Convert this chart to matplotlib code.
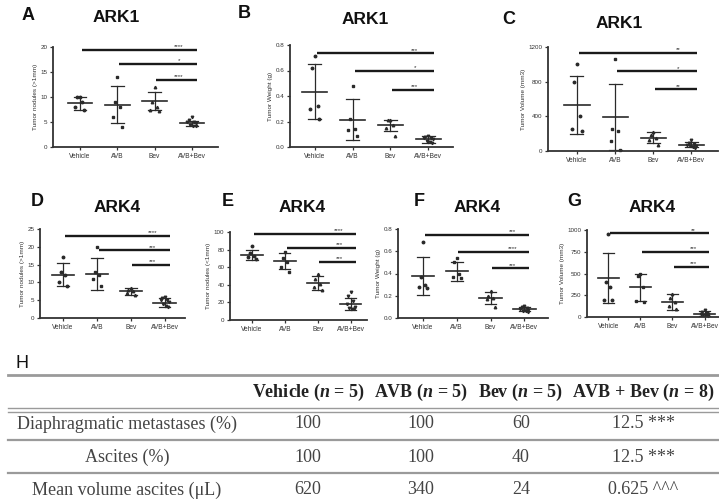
import matplotlib.pyplot as plt
import numpy as np

plt.rcParams['font.family'] = ['Liberation Sans', 'DejaVu Sans']
plt.rcParams['mathtext.fontset'] = 'custom'
plt.rcParams['mathtext.it'] = 'Liberation Serif:italic:bold'

W, H = 719, 503
groups = ['Vehicle', 'AVB', 'Bev', 'AVB+Bev']

# A - ARK1 tumor nodules (>1mm)
a_pts = [[10, 10, 9, 8, 7.5], [14, 9, 8, 6, 4], [12, 9, 8, 7.5, 7.2],
         [6, 5.5, 5, 5, 4.8, 4.5, 4.3, 4.2]]
a_mean = [8.8, 8.5, 9.2, 4.8]
a_sd = [1.3, 3.7, 1.85, 0.5]
a_sig = [19.5, 16.7, 13.5]
a_stars = ['****', '*', '****']

# B - ARK1 tumor weight
b_pts = [[0.71, 0.62, 0.32, 0.30, 0.22], [0.48, 0.22, 0.14, 0.13, 0.09],
         [0.21, 0.21, 0.17, 0.15, 0.09],
         [0.09, 0.08, 0.07, 0.07, 0.06, 0.05, 0.04, 0.03]]
b_mean = [0.435, 0.215, 0.17, 0.06]
b_sd = [0.215, 0.16, 0.045, 0.025]
b_sig = [0.735, 0.595, 0.45]
b_stars = ['***', '*', '***']

# C - ARK1 tumor volume
c_pts = [[1000, 800, 400, 250, 230], [1060, 250, 230, 120, 10],
         [220, 190, 150, 130, 70], [130, 90, 80, 70, 60, 60, 50, 40]]
c_mean = [530, 390, 155, 75]
c_sd = [335, 380, 60, 25]
c_sig = [1130, 920, 710]
c_stars = ['**', '*', '**']

# D - ARK4 tumor nodules (>1mm)
d_pts = [[17, 13, 12, 10, 9], [20, 13, 12, 11, 9], [8.5, 8, 7.5, 7, 6.5],
         [6, 5.5, 5, 5, 4.5, 4, 3.5, 3]]
d_mean = [12.2, 12.3, 7.5, 4.3]
d_sd = [3.2, 4.5, 0.9, 1.3]
d_sig = [23, 19, 15]
d_stars = ['****', '***', '***']

# E - ARK4 tumor nodules (<1mm)
e_pts = [[84, 76, 73, 72, 69], [77, 70, 66, 60, 55], [52, 47, 41, 37, 34],
         [32, 27, 22, 18, 15, 14, 12, 12]]
e_mean = [74, 67, 42, 18]
e_sd = [5.5, 9, 7.5, 6.5]
e_sig = [98, 82, 66]
e_stars = ['****', '***', '***']

# F - ARK4 tumor weight
f_pts = [[0.68, 0.37, 0.30, 0.28, 0.27], [0.54, 0.50, 0.40, 0.37, 0.36],
         [0.24, 0.20, 0.18, 0.17, 0.10],
         [0.11, 0.10, 0.09, 0.08, 0.07, 0.06, 0.06, 0.05]]
f_mean = [0.38, 0.42, 0.18, 0.08]
f_sd = [0.17, 0.085, 0.05, 0.02]
f_sig = [0.745, 0.595, 0.445]
f_stars = ['***', '****', '***']

# G - ARK4 tumor volume
g_pts = [[950, 400, 350, 200, 190], [490, 470, 340, 180, 170],
         [270, 220, 170, 130, 90], [80, 60, 50, 40, 30, 20, 20, 10]]
g_mean = [450, 340, 170, 40]
g_sd = [290, 160, 95, 25]
g_sig = [960, 750, 580]
g_stars = ['**', '***', '***']

# H - table
col_heads = ['Vehicle ($n$ = 5)', 'AVB ($n$ = 5)', 'Bev ($n$ = 5)', 'AVB + Bev ($n$ = 8)']
row_heads = ['Diaphragmatic metastases (%)', 'Ascites (%)', 'Mean volume ascites (\u03bcL)']
cells = [['100', '100', '60', '12.5 ***'],
         ['100', '100', '40', '12.5 ***'],
         ['620', '340', '24', '0.625 ^^^']]

dark = '#2a2a2a'
mk = ['o', 's', '^', 'v']
offs = np.array([0, -0.07, 0.07, -0.12, 0.12, -0.04, 0.04, 0.1])

fig = plt.figure(figsize=(W / 100, H / 100), dpi=100)


def px_box(l, t, r, b):
    return [l / W, 1 - b / H, (r - l) / W, (b - t) / H]


def ftext(x, y, s, **kw):
    fig.text(x / W, 1 - y / H, s, ha='center', va='center', **kw)


def panel(box, xlim, ymax, yticks, ytl, ylabel, pts, mean, sd, sig, stars):
    ax = fig.add_axes(px_box(*box))
    for i in range(4):
        p = pts[i]
        ax.plot(i + offs[:len(p)], p, ls='none', marker=mk[i], ms=1.8,
                color=dark, clip_on=False)
        ax.plot([i - 0.33, i + 0.33], [mean[i], mean[i]], color=dark, lw=1.2)
        lo, hi = mean[i] - sd[i], mean[i] + sd[i]
        ax.plot([i, i], [lo, hi], color=dark, lw=0.9)
        for y in (lo, hi):
            ax.plot([i - 0.17, i + 0.17], [y, y], color=dark, lw=0.9)
    for j in range(3):
        ax.plot([j + 0.05, 3.15], [sig[j], sig[j]], color='#1a1a1a', lw=1.7,
                clip_on=False, solid_capstyle='butt')
        ax.annotate(stars[j], (2.65, sig[j]), xytext=(0, 0.5),
                    textcoords='offset points', ha='center', va='bottom',
                    fontsize=4.5, color=dark, annotation_clip=False)
    ax.set_xlim(*xlim)
    ax.set_ylim(0, ymax)
    ax.set_xticks(range(4))
    ax.set_xticklabels(groups, fontsize=4.8, color='#333')
    ax.set_yticks(yticks)
    ax.set_yticklabels(ytl, fontsize=4.5, color='#333')
    ax.set_ylabel(ylabel, fontsize=4.6, color='#333', labelpad=2)
    ax.tick_params(length=2.5, width=0.9, pad=1.5, colors='#333')
    for s in ('top', 'right'):
        ax.spines[s].set_visible(False)
    for s in ('left', 'bottom'):
        ax.spines[s].set_linewidth(1.3)
        ax.spines[s].set_color('#333')
    ax.patch.set_alpha(0)
    return ax


panel((53, 47, 218, 147), (-0.72, 3.7), 20, [0, 5, 10, 15, 20],
      ['0', '5', '10', '15', '20'], 'Tumor nodules (>1mm)',
      a_pts, a_mean, a_sd, a_sig, a_stars)
panel((290, 45, 453, 147), (-0.66, 3.66), 0.8, [0, 0.2, 0.4, 0.6, 0.8],
      ['0.0', '0.2', '0.4', '0.6', '0.8'], 'Tumor Weight (g)',
      b_pts, b_mean, b_sd, b_sig, b_stars)
panel((548, 47, 718, 151), (-0.76, 3.7), 1200, [0, 400, 800, 1200],
      ['0', '400', '800', '1200'], 'Tumor Volume (mm3)',
      c_pts, c_mean, c_sd, c_sig, c_stars)
panel((40, 229, 185, 318), (-0.68, 3.6), 25, [0, 5, 10, 15, 20, 25],
      ['0', '5', '10', '15', '20', '25'], 'Tumor nodules (>1mm)',
      d_pts, d_mean, d_sd, d_sig, d_stars)
panel((230, 232, 367, 320), (-0.67, 3.5), 100, [0, 20, 40, 60, 80, 100],
      ['0', '20', '40', '60', '80', '100'], 'Tumor nodules (<1mm)',
      e_pts, e_mean, e_sd, e_sig, e_stars)
panel((398, 229, 548, 318), (-0.74, 3.7), 0.8, [0, 0.2, 0.4, 0.6, 0.8],
      ['0.0', '0.2', '0.4', '0.6', '0.8'], 'Tumor Weight (g)',
      f_pts, f_mean, f_sd, f_sig, f_stars)
panel((587, 230, 719, 317), (-0.66, 3.45), 1000, [0, 250, 500, 750, 1000],
      ['0', '250', '500', '750', '1000'], 'Tumor Volume (mm3)',
      g_pts, g_mean, g_sd, g_sig, g_stars)

# panel letters and titles
for lx, ly, L, tx, ty, T in [(28, 16, 'A', 116, 17, 'ARK1'),
                             (244, 14, 'B', 365, 20, 'ARK1'),
                             (509, 19, 'C', 619, 23, 'ARK1'),
                             (37, 201, 'D', 117, 207, 'ARK4'),
                             (228, 202, 'E', 302, 207, 'ARK4'),
                             (419, 202, 'F', 477, 207, 'ARK4'),
                             (574, 202, 'G', 652, 207, 'ARK4')]:
    ftext(lx, ly, L, fontsize=13, fontweight='bold', color='#111')
    ftext(tx, ty, T, fontsize=12.5, fontweight='bold', color='#111')

# table H
ftext(22, 364, 'H', fontsize=13, color='#111')
tx = plt.axes([0, 0, 1, 1], facecolor='none')
tx.set_xlim(0, W)
tx.set_ylim(H, 0)
tx.axis('off')
line_c = '#9a9a9a'
tx.plot([8, 719], [375, 375], color=line_c, lw=2)
tx.plot([8, 719], [408, 408], color=line_c, lw=1)
tx.plot([8, 719], [411.5, 411.5], color=line_c, lw=1)
tx.plot([8, 719], [440, 440], color=line_c, lw=1.6)
tx.plot([8, 719], [473, 473], color=line_c, lw=1.6)

col_x = [308, 421, 521, 643]
row_y = [424, 457, 490]
for x, s in zip(col_x, col_heads):
    tx.text(x, 392, s, ha='center', va='center', fontsize=13,
            family='Liberation Serif', fontweight='bold', color='#222')
for y, r, vals in zip(row_y, row_heads, cells):
    tx.text(127, y, r, ha='center', va='center', fontsize=13,
            family='Liberation Serif', color='#444')
    for x, v in zip(col_x, vals):
        tx.text(x, y, v, ha='center', va='center', fontsize=13,
                family='Liberation Serif', color='#444')

fig.savefig('out.png', dpi=100)
